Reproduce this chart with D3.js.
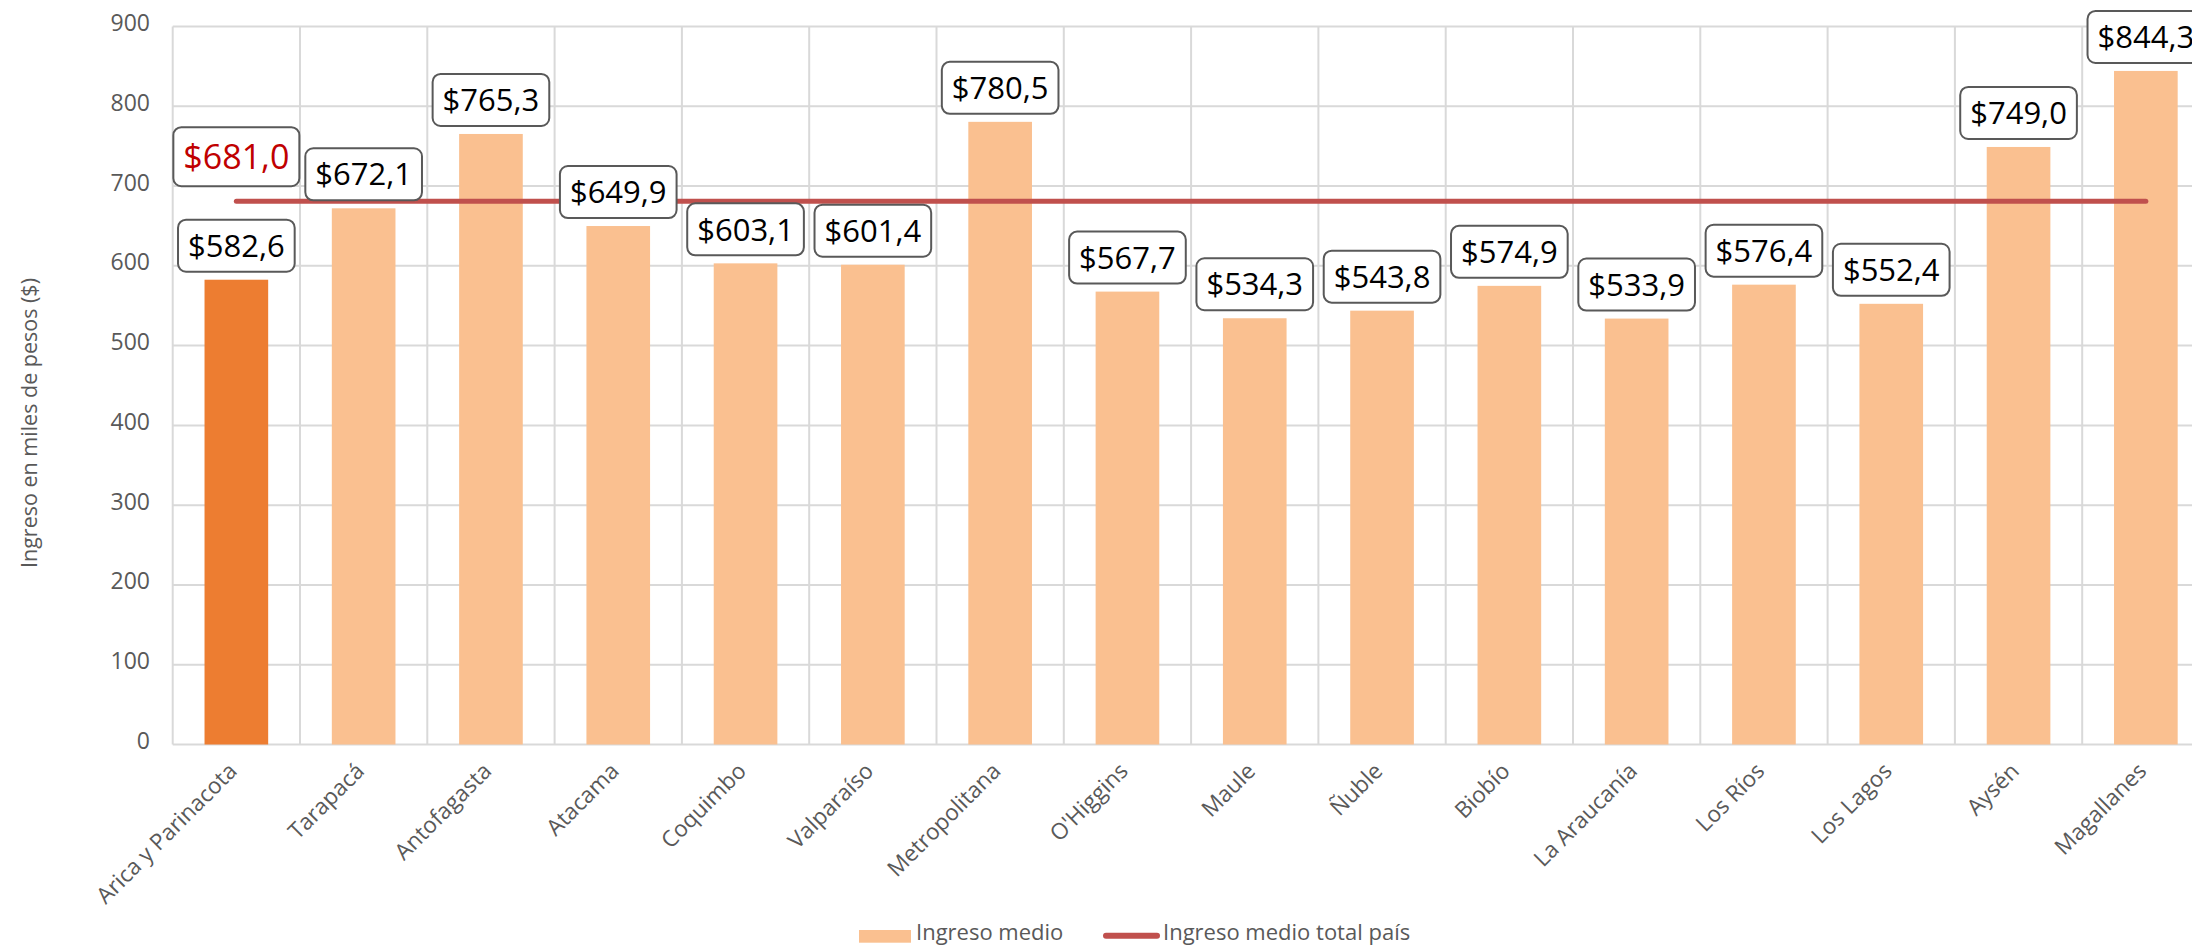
<!DOCTYPE html>
<html>
<head>
<meta charset="utf-8">
<script src="https://cdn.jsdelivr.net/npm/d3@7"></script>
<style>
  body { margin: 0; background: #fff; }
  svg { display: block; font-family: "Open Sans", sans-serif; }
</style>
</head>
<body>
<script>
// regions and mean income (miles de pesos)
const regions = ["Arica y Parinacota", "Tarapacá", "Antofagasta", "Atacama", "Coquimbo", "Valparaíso",
  "Metropolitana", "O'Higgins", "Maule", "Ñuble", "Biobío", "La Araucanía", "Los Ríos", "Los Lagos",
  "Aysén", "Magallanes"];
const ingresoMedio = [582.6, 672.1, 765.3, 649.9, 603.1, 601.4, 780.5, 567.7, 534.3, 543.8, 574.9,
  533.9, 576.4, 552.4, 749.0, 844.3];
const ingresoPais = 681.0;
const yTicks = [0, 100, 200, 300, 400, 500, 600, 700, 800, 900];
const highlight = "Arica y Parinacota";

const width = 2192;
const height = 946;
const fmt = (v) => "$" + v.toFixed(1).replace(".", ",");

const svg = d3.select("body").append("svg")
  .attr("width", width)
  .attr("height", height);

// plot area runs past the right edge, like the original export
const x = d3.scaleBand()
  .domain(regions)
  .range([172.7, 2209.5])
  .paddingInner(0.5)
  .paddingOuter(0.25);

const y = d3.scaleLinear()
  .domain([0, 900])
  .range([744.5, 26.5]);

const gap = (x.step() - x.bandwidth()) / 2;
const cx = (r) => x(r) + x.bandwidth() / 2;

// grid
const grid = svg.append("g").attr("stroke", "#d9d9d9").attr("stroke-width", 2);
grid.selectAll("line.h")
  .data(yTicks)
  .join("line")
  .attr("class", "h")
  .attr("x1", x.range()[0])
  .attr("x2", x.range()[1])
  .attr("y1", (d) => y(d))
  .attr("y2", (d) => y(d));

grid.selectAll("line.v")
  .data(regions.map((r) => x(r) - gap).concat([x.range()[1]]))
  .join("line")
  .attr("class", "v")
  .attr("x1", (d) => d)
  .attr("x2", (d) => d)
  .attr("y1", y(900))
  .attr("y2", y(0));

// y tick labels
svg.append("g")
  .selectAll("text")
  .data(yTicks)
  .join("text")
  .attr("x", 150)
  .attr("y", (d) => y(d) + 4.5)
  .attr("text-anchor", "end")
  .attr("fill", "#595959")
  .style("font-size", "23px")
  .text((d) => d);

// y axis title
svg.append("text")
  .attr("transform", "translate(37,423) rotate(-90)")
  .attr("text-anchor", "middle")
  .attr("fill", "#595959")
  .style("font-size", "21.5px")
  .text("Ingreso en miles de pesos ($)");

// bars
svg.append("g")
  .selectAll("rect")
  .data(regions)
  .join("rect")
  .attr("x", (d) => x(d))
  .attr("width", x.bandwidth())
  .attr("y", (d, i) => y(ingresoMedio[i]))
  .attr("height", (d, i) => y(0) - y(ingresoMedio[i]))
  .attr("fill", (d) => d === highlight ? "#ed7d31" : "#fac090");

// x labels, rotated
svg.append("g")
  .selectAll("text")
  .data(regions)
  .join("text")
  .attr("transform", (d) => `translate(${cx(d) + 2},${y(0) + 28}) rotate(-45)`)
  .attr("text-anchor", "end")
  .attr("fill", "#595959")
  .style("font-size", "22.5px")
  .text((d) => d);

// national mean line
svg.append("line")
  .attr("x1", cx(regions[0]))
  .attr("x2", cx(regions[regions.length - 1]))
  .attr("y1", y(ingresoPais))
  .attr("y2", y(ingresoPais))
  .attr("stroke", "#c0504d")
  .attr("stroke-width", 5)
  .attr("stroke-linecap", "round");

// boxed label helper
function boxLabel(g, cxPos, bottom, txt, size, boxH, color) {
  const t = g.append("text")
    .attr("x", cxPos)
    .attr("text-anchor", "middle")
    .attr("fill", color)
    .style("font-size", size + "px")
    .text(txt);
  const w = t.node().getComputedTextLength() + 20;
  g.insert("rect", "text")
    .attr("x", cxPos - w / 2)
    .attr("y", bottom - boxH)
    .attr("width", w)
    .attr("height", boxH)
    .attr("rx", 8)
    .attr("fill", "#fff")
    .attr("stroke", "#595959")
    .attr("stroke-width", 2);
  t.attr("y", bottom - boxH / 2 + size * 0.36);
}

const labels = svg.append("g");
regions.forEach((r, i) => {
  boxLabel(labels.append("g"), cx(r), y(ingresoMedio[i]) - 8, fmt(ingresoMedio[i]), 31, 52, "#000");
});
boxLabel(svg.append("g"), cx(regions[0]), y(ingresoPais) - 15, fmt(ingresoPais), 34, 59, "#c00000");

// legend
const legend = svg.append("g");
legend.append("rect")
  .attr("x", 859)
  .attr("y", 930)
  .attr("width", 52)
  .attr("height", 12.7)
  .attr("fill", "#fac090");
legend.append("text")
  .attr("x", 916)
  .attr("y", 940)
  .attr("fill", "#595959")
  .style("font-size", "22px")
  .text("Ingreso medio");
legend.append("line")
  .attr("x1", 1106)
  .attr("x2", 1157)
  .attr("y1", 935.7)
  .attr("y2", 935.7)
  .attr("stroke", "#c0504d")
  .attr("stroke-width", 6)
  .attr("stroke-linecap", "round");
legend.append("text")
  .attr("x", 1163)
  .attr("y", 940)
  .attr("fill", "#595959")
  .style("font-size", "22px")
  .text("Ingreso medio total país");
</script>
</body>
</html>
